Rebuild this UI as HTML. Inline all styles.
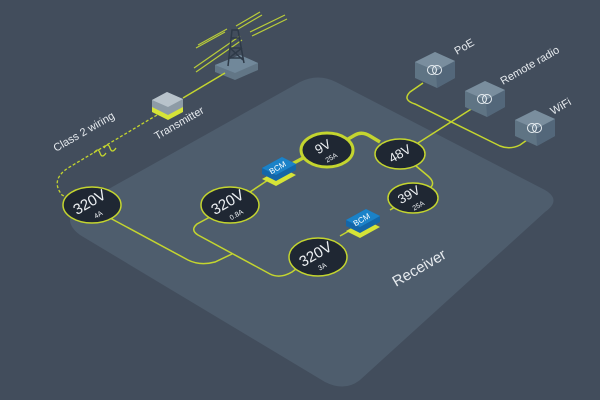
<!DOCTYPE html>
<html><head><meta charset="utf-8"><style>
html,body{margin:0;padding:0;background:#424d5c;}
svg{display:block}
text{font-family:"Liberation Sans",sans-serif;}
</style></head><body>
<svg width="600" height="400" viewBox="0 0 600 400" xmlns="http://www.w3.org/2000/svg">
<rect width="600" height="400" fill="#424d5c"/>
<path d="M80,205 L300,82 Q318,73 336,82 L545,190 Q562,200 545,212 L360,380 Q345,392 325,382 L80,235 Q60,220 80,205 Z" fill="#4e5d6d"/>
<g stroke="#b9cc3a" stroke-width="1.2">
<line x1="196" y1="72" x2="242" y2="40"/><line x1="194" y1="68" x2="240" y2="36"/>
<line x1="250" y1="32" x2="285" y2="15"/><line x1="252" y1="36" x2="287" y2="19"/>
<line x1="196" y1="48" x2="225" y2="32"/><line x1="198" y1="45" x2="227" y2="29"/>
<line x1="236" y1="26" x2="260" y2="12"/><line x1="238" y1="29" x2="262" y2="15"/>
</g>
<path d="M215,65 L240,55 L258,63 L258,70 L235,80 L215,72 Z" fill="#627686"/>
<path d="M215,65 L240,55 L258,63 L235,73 Z" fill="#71889a"/>
<g stroke="#2e3a48" stroke-width="1.5" fill="none">
<path d="M228,66 L232,30 L238,30 L244,63"/><path d="M230,48 L242,48 M229,58 L243,58 M231,38 L239,38 M230,48 L243,60 M242,48 L229,58"/>
</g>
<line x1="183" y1="98" x2="225" y2="73" stroke="#c4d52f" stroke-width="1.5"/>
<path d="M152,105 L167,97 L183,104 L183,112 L168,120 L152,112 Z" fill="#d6e437"/>
<path d="M152,100 L167,92 L183,99 L183,107 L168,115 L152,107 Z" fill="#8d9ba6"/>
<path d="M152,100 L167,92 L183,99 L168,107 Z" fill="#b8c3cb"/>
<path d="M157,115 L68,168 Q50,180 62,195 L72,200" stroke="#c4d52f" stroke-width="1.3" fill="none" stroke-dasharray="3,2"/>
<path d="M94,153 q4,-6 6,0 q2,6 6,0 M104,148 q4,-6 6,0 q2,6 6,0" stroke="#c4d52f" stroke-width="1.3" fill="none"/>
<g stroke="#c4d52f" stroke-width="1.5" fill="none">
<path d="M110,218 L188,260 Q200,266 215,262 L232,254"/>
<path d="M210,217 L197,224 Q190,230 198,235 L270,274 Q280,279 292,272 L300,266"/>
<path d="M250,192 L268,180"/>
<path d="M340,236 L356,227"/>
<path d="M390,210 L400,204"/>
<path d="M416,166 L428,176 Q436,183 430,188 L427,190"/>
<path d="M418,143 L476,106"/>
<path d="M423,83 L410,92 Q402,100 415,104 L500,146 Q510,150 520,145 L527,140"/>
</g>
<path d="M343,142 L355,135 Q362,131 370,136 L380,142" stroke="#c4d52f" stroke-width="3.5" fill="none"/>
<path d="M290,165 L305,157" stroke="#c4d52f" stroke-width="3.5"/>
<g>
<path d="M262,174 L282,163 L296,170 L276,181 Z" fill="#d6e437" transform="translate(0,5)"/>
<path d="M262,168 L282,157 L296,164 L296,170 L276,181 L262,174 Z" fill="#1466a8"/>
<path d="M262,168 L282,157 L296,164 L276,175 Z" fill="#1b82c8"/>
<text x="279" y="170" fill="#fff" font-size="8" text-anchor="middle" transform="rotate(-30 279 170)">BCM</text>
</g>
<g transform="translate(84,52)">
<path d="M262,174 L282,163 L296,170 L276,181 Z" fill="#d6e437" transform="translate(0,5)"/>
<path d="M262,168 L282,157 L296,164 L296,170 L276,181 L262,174 Z" fill="#1466a8"/>
<path d="M262,168 L282,157 L296,164 L276,175 Z" fill="#1b82c8"/>
<text x="279" y="170" fill="#fff" font-size="8" text-anchor="middle" transform="rotate(-30 279 170)">BCM</text>
</g>
<g stroke="#c4d52f" fill="#1f2733">
<ellipse cx="92" cy="205" rx="29" ry="18" stroke-width="1.5"/>
<ellipse cx="230" cy="205" rx="29" ry="18" stroke-width="1.5"/>
<ellipse cx="318" cy="257" rx="29" ry="19" stroke-width="1.5"/>
<ellipse cx="327" cy="150" rx="26" ry="17" stroke-width="3"/>
<ellipse cx="400" cy="154" rx="25" ry="15" stroke-width="1.5"/>
<ellipse cx="413" cy="198" rx="25" ry="15" stroke-width="1.5"/>
</g>
<g fill="#eef1f4">
<text x="90" y="207" font-size="15" text-anchor="middle" transform="rotate(-30 90 203)">320V</text>
<text x="98" y="217" font-size="7" text-anchor="middle" transform="rotate(-30 98 214)">4A</text>
<text x="228" y="207" font-size="15" text-anchor="middle" transform="rotate(-30 228 203)">320V</text>
<text x="236" y="217" font-size="7" text-anchor="middle" transform="rotate(-30 236 214)">0.8A</text>
<text x="316" y="259" font-size="15" text-anchor="middle" transform="rotate(-30 316 255)">320V</text>
<text x="322" y="269" font-size="7" text-anchor="middle" transform="rotate(-30 322 266)">3A</text>
<text x="323" y="151" font-size="13" text-anchor="middle" transform="rotate(-30 323 147)">9V</text>
<text x="331" y="160" font-size="7" text-anchor="middle" transform="rotate(-30 331 157)">25A</text>
<text x="400" y="158" font-size="13" text-anchor="middle" transform="rotate(-30 400 154)">48V</text>
<text x="409" y="199" font-size="13" text-anchor="middle" transform="rotate(-30 409 195)">39V</text>
<text x="418" y="208" font-size="7" text-anchor="middle" transform="rotate(-30 418 205)">25A</text>
</g>
<g id="bx">
<path d="M415,62 L435,52 L455,61 L455,78 L437,88 L415,78 Z" fill="#5f7484"/>
<path d="M415,62 L435,52 L455,61 L436,71 Z" fill="#7a8e9e"/>
<path d="M436,71 L455,61 L455,78 L437,88 Z" fill="#53677a"/>
<circle cx="432" cy="70" r="4.5" fill="none" stroke="#e8eef2" stroke-width="1"/>
<circle cx="437" cy="70" r="4.5" fill="none" stroke="#e8eef2" stroke-width="1"/>
</g>
<use href="#bx" transform="translate(50,29)"/>
<use href="#bx" transform="translate(100,58)"/>
<g fill="#e6eaee" font-size="11">
<text x="457" y="55" transform="rotate(-30 457 55)">PoE</text>
<text x="503" y="85" transform="rotate(-30 503 85)">Remote radio</text>
<text x="553" y="115" transform="rotate(-30 553 115)">WiFi</text>
<text x="157" y="140" transform="rotate(-30 157 140)">Transmitter</text>
<text x="56" y="152" transform="rotate(-30 56 152)">Class 2 wiring</text>
<text x="396" y="287" font-size="15" transform="rotate(-30 396 287)">Receiver</text>
</g>
</svg>
</body></html>
